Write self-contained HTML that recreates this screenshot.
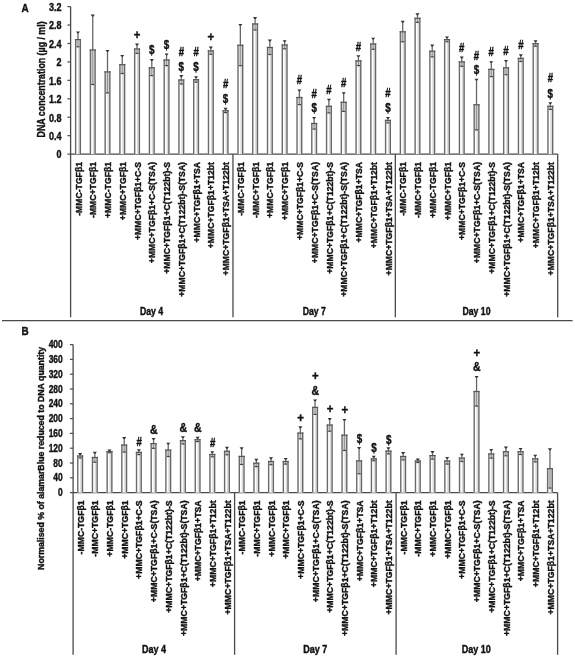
<!DOCTYPE html>
<html><head><meta charset="utf-8"><style>
html,body{margin:0;padding:0;background:#fff;}
svg{display:block;font-family:"Liberation Sans",sans-serif;filter:grayscale(100%);}
text{fill:#111;stroke:#111;stroke-width:0.4px;}
</style></head><body>
<svg width="575" height="658" viewBox="0 0 575 658">
<rect width="575" height="658" fill="#fff"/>
<text x="21.6" y="11.6" font-size="11.8" font-weight="bold" textLength="7.2" lengthAdjust="spacingAndGlyphs">A</text>
<line x1="70.6" y1="6.6" x2="70.6" y2="317.2" stroke="#4a4a4a" stroke-width="1.3"/>
<line x1="70.6" y1="154.1" x2="557.7" y2="154.1" stroke="#4a4a4a" stroke-width="1.3"/>
<line x1="232.97" y1="154.1" x2="232.97" y2="317.2" stroke="#4a4a4a" stroke-width="1.3"/>
<line x1="395.33" y1="154.1" x2="395.33" y2="317.2" stroke="#4a4a4a" stroke-width="1.3"/>
<line x1="557.70" y1="154.1" x2="557.70" y2="317.2" stroke="#4a4a4a" stroke-width="1.3"/>
<line x1="67.40" y1="6.60" x2="70.6" y2="6.60" stroke="#4a4a4a" stroke-width="1.2"/>
<text x="61.60" y="10.90" font-size="10.0" font-weight="bold" text-anchor="end" textLength="12.51" lengthAdjust="spacingAndGlyphs" >3.2</text>
<line x1="67.40" y1="25.04" x2="70.6" y2="25.04" stroke="#4a4a4a" stroke-width="1.2"/>
<text x="61.60" y="29.34" font-size="10.0" font-weight="bold" text-anchor="end" textLength="12.51" lengthAdjust="spacingAndGlyphs" >2.8</text>
<line x1="67.40" y1="43.48" x2="70.6" y2="43.48" stroke="#4a4a4a" stroke-width="1.2"/>
<text x="61.60" y="47.77" font-size="10.0" font-weight="bold" text-anchor="end" textLength="12.51" lengthAdjust="spacingAndGlyphs" >2.4</text>
<line x1="67.40" y1="61.91" x2="70.6" y2="61.91" stroke="#4a4a4a" stroke-width="1.2"/>
<text x="61.60" y="66.21" font-size="10.0" font-weight="bold" text-anchor="end" textLength="5.00" lengthAdjust="spacingAndGlyphs" >2</text>
<line x1="67.40" y1="80.35" x2="70.6" y2="80.35" stroke="#4a4a4a" stroke-width="1.2"/>
<text x="61.60" y="84.65" font-size="10.0" font-weight="bold" text-anchor="end" textLength="12.51" lengthAdjust="spacingAndGlyphs" >1.6</text>
<line x1="67.40" y1="98.79" x2="70.6" y2="98.79" stroke="#4a4a4a" stroke-width="1.2"/>
<text x="61.60" y="103.09" font-size="10.0" font-weight="bold" text-anchor="end" textLength="12.51" lengthAdjust="spacingAndGlyphs" >1.2</text>
<line x1="67.40" y1="117.22" x2="70.6" y2="117.22" stroke="#4a4a4a" stroke-width="1.2"/>
<text x="61.60" y="121.52" font-size="10.0" font-weight="bold" text-anchor="end" textLength="12.51" lengthAdjust="spacingAndGlyphs" >0.8</text>
<line x1="67.40" y1="135.66" x2="70.6" y2="135.66" stroke="#4a4a4a" stroke-width="1.2"/>
<text x="61.60" y="139.96" font-size="10.0" font-weight="bold" text-anchor="end" textLength="12.51" lengthAdjust="spacingAndGlyphs" >0.4</text>
<line x1="67.40" y1="154.10" x2="70.6" y2="154.10" stroke="#4a4a4a" stroke-width="1.2"/>
<text x="61.60" y="158.40" font-size="10.0" font-weight="bold" text-anchor="end" textLength="5.00" lengthAdjust="spacingAndGlyphs" >0</text>
<text transform="translate(44.80,79.40) rotate(-90)" font-size="11" font-weight="bold" text-anchor="middle" textLength="116.00" lengthAdjust="spacingAndGlyphs">DNA concentration (µg / ml)</text>
<line x1="77.98" y1="32.40" x2="77.98" y2="39.60" stroke="#666" stroke-width="1.3"/>
<path d="M75.98 31.40H79.98L78.68 33.30H77.28Z" fill="#333"/>
<rect x="74.93" y="39.60" width="6.10" height="114.50" fill="#fff"/>
<rect x="78.03" y="39.60" width="1.5" height="114.50" fill="#dadada"/>
<rect x="76.23" y="39.60" width="3.50" height="7.20" fill="#d4d4d4"/>
<line x1="77.98" y1="39.60" x2="77.98" y2="46.80" stroke="#8a8a8a" stroke-width="0.9"/>
<line x1="76.38" y1="46.80" x2="79.58" y2="46.80" stroke="#444" stroke-width="1.2"/>
<rect x="74.93" y="39.00" width="1.4" height="115.10" fill="#6a6a6a"/>
<rect x="79.63" y="39.00" width="1.4" height="115.10" fill="#666"/>
<rect x="74.93" y="39.00" width="6.10" height="1.2" fill="#555"/>
<text transform="translate(81.58,162.00) rotate(-90)" font-size="9.9" font-weight="bold" text-anchor="end" textLength="53.80" lengthAdjust="spacingAndGlyphs">-MMC-TGFβ1</text>
<line x1="92.74" y1="15.50" x2="92.74" y2="50.00" stroke="#666" stroke-width="1.3"/>
<path d="M90.74 14.50H94.74L93.44 16.40H92.04Z" fill="#333"/>
<rect x="89.69" y="50.00" width="6.10" height="104.10" fill="#fff"/>
<rect x="92.79" y="50.00" width="1.5" height="104.10" fill="#dadada"/>
<rect x="90.99" y="50.00" width="3.50" height="34.50" fill="#d4d4d4"/>
<line x1="92.74" y1="50.00" x2="92.74" y2="84.50" stroke="#8a8a8a" stroke-width="0.9"/>
<line x1="91.14" y1="84.50" x2="94.34" y2="84.50" stroke="#444" stroke-width="1.2"/>
<rect x="89.69" y="49.40" width="1.4" height="104.70" fill="#6a6a6a"/>
<rect x="94.39" y="49.40" width="1.4" height="104.70" fill="#666"/>
<rect x="89.69" y="49.40" width="6.10" height="1.2" fill="#555"/>
<text transform="translate(96.34,162.00) rotate(-90)" font-size="9.9" font-weight="bold" text-anchor="end" textLength="55.97" lengthAdjust="spacingAndGlyphs">-MMC+TGFβ1</text>
<line x1="107.50" y1="50.90" x2="107.50" y2="71.90" stroke="#666" stroke-width="1.3"/>
<path d="M105.50 49.90H109.50L108.20 51.80H106.80Z" fill="#333"/>
<rect x="104.45" y="71.90" width="6.10" height="82.20" fill="#fff"/>
<rect x="107.55" y="71.90" width="1.5" height="82.20" fill="#dadada"/>
<rect x="105.75" y="71.90" width="3.50" height="21.00" fill="#d4d4d4"/>
<line x1="107.50" y1="71.90" x2="107.50" y2="92.90" stroke="#8a8a8a" stroke-width="0.9"/>
<line x1="105.90" y1="92.90" x2="109.10" y2="92.90" stroke="#444" stroke-width="1.2"/>
<rect x="104.45" y="71.30" width="1.4" height="82.80" fill="#6a6a6a"/>
<rect x="109.15" y="71.30" width="1.4" height="82.80" fill="#666"/>
<rect x="104.45" y="71.30" width="6.10" height="1.2" fill="#555"/>
<text transform="translate(111.10,162.00) rotate(-90)" font-size="9.9" font-weight="bold" text-anchor="end" textLength="55.97" lengthAdjust="spacingAndGlyphs">+MMC-TGFβ1</text>
<line x1="122.26" y1="55.90" x2="122.26" y2="64.70" stroke="#666" stroke-width="1.3"/>
<path d="M120.26 54.90H124.26L122.96 56.80H121.56Z" fill="#333"/>
<rect x="119.21" y="64.70" width="6.10" height="89.40" fill="#fff"/>
<rect x="122.31" y="64.70" width="1.5" height="89.40" fill="#dadada"/>
<rect x="120.51" y="64.70" width="3.50" height="8.80" fill="#d4d4d4"/>
<line x1="122.26" y1="64.70" x2="122.26" y2="73.50" stroke="#8a8a8a" stroke-width="0.9"/>
<line x1="120.66" y1="73.50" x2="123.86" y2="73.50" stroke="#444" stroke-width="1.2"/>
<rect x="119.21" y="64.10" width="1.4" height="90.00" fill="#6a6a6a"/>
<rect x="123.91" y="64.10" width="1.4" height="90.00" fill="#666"/>
<rect x="119.21" y="64.10" width="6.10" height="1.2" fill="#555"/>
<text transform="translate(125.86,162.00) rotate(-90)" font-size="9.9" font-weight="bold" text-anchor="end" textLength="58.15" lengthAdjust="spacingAndGlyphs">+MMC+TGFβ1</text>
<line x1="137.02" y1="44.60" x2="137.02" y2="49.00" stroke="#666" stroke-width="1.3"/>
<path d="M135.02 43.60H139.02L137.72 45.50H136.32Z" fill="#333"/>
<rect x="133.97" y="49.00" width="6.10" height="105.10" fill="#fff"/>
<rect x="137.07" y="49.00" width="1.5" height="105.10" fill="#dadada"/>
<rect x="135.27" y="49.00" width="3.50" height="4.40" fill="#d4d4d4"/>
<line x1="137.02" y1="49.00" x2="137.02" y2="53.40" stroke="#8a8a8a" stroke-width="0.9"/>
<line x1="135.42" y1="53.40" x2="138.62" y2="53.40" stroke="#444" stroke-width="1.2"/>
<rect x="133.97" y="48.40" width="1.4" height="105.70" fill="#6a6a6a"/>
<rect x="138.67" y="48.40" width="1.4" height="105.70" fill="#666"/>
<rect x="133.97" y="48.40" width="6.10" height="1.2" fill="#555"/>
<text transform="translate(140.62,162.00) rotate(-90)" font-size="9.9" font-weight="bold" text-anchor="end" textLength="78.09" lengthAdjust="spacingAndGlyphs">+MMC+TGFβ1+C-S</text>
<line x1="151.78" y1="60.00" x2="151.78" y2="67.80" stroke="#666" stroke-width="1.3"/>
<path d="M149.78 59.00H153.78L152.48 60.90H151.08Z" fill="#333"/>
<rect x="148.73" y="67.80" width="6.10" height="86.30" fill="#fff"/>
<rect x="151.83" y="67.80" width="1.5" height="86.30" fill="#dadada"/>
<rect x="150.03" y="67.80" width="3.50" height="7.80" fill="#d4d4d4"/>
<line x1="151.78" y1="67.80" x2="151.78" y2="75.60" stroke="#8a8a8a" stroke-width="0.9"/>
<line x1="150.18" y1="75.60" x2="153.38" y2="75.60" stroke="#444" stroke-width="1.2"/>
<rect x="148.73" y="67.20" width="1.4" height="86.90" fill="#6a6a6a"/>
<rect x="153.43" y="67.20" width="1.4" height="86.90" fill="#666"/>
<rect x="148.73" y="67.20" width="6.10" height="1.2" fill="#555"/>
<text transform="translate(155.38,162.00) rotate(-90)" font-size="9.9" font-weight="bold" text-anchor="end" textLength="101.15" lengthAdjust="spacingAndGlyphs">+MMC+TGFβ1+C-S(TSA)</text>
<line x1="166.54" y1="54.40" x2="166.54" y2="60.00" stroke="#666" stroke-width="1.3"/>
<path d="M164.54 53.40H168.54L167.24 55.30H165.84Z" fill="#333"/>
<rect x="163.49" y="60.00" width="6.10" height="94.10" fill="#fff"/>
<rect x="166.59" y="60.00" width="1.5" height="94.10" fill="#dadada"/>
<rect x="164.79" y="60.00" width="3.50" height="5.60" fill="#d4d4d4"/>
<line x1="166.54" y1="60.00" x2="166.54" y2="65.60" stroke="#8a8a8a" stroke-width="0.9"/>
<line x1="164.94" y1="65.60" x2="168.14" y2="65.60" stroke="#444" stroke-width="1.2"/>
<rect x="163.49" y="59.40" width="1.4" height="94.70" fill="#6a6a6a"/>
<rect x="168.19" y="59.40" width="1.4" height="94.70" fill="#666"/>
<rect x="163.49" y="59.40" width="6.10" height="1.2" fill="#555"/>
<text transform="translate(170.14,162.00) rotate(-90)" font-size="9.9" font-weight="bold" text-anchor="end" textLength="111.73" lengthAdjust="spacingAndGlyphs">+MMC+TGFβ1+C(T122bt)-S</text>
<line x1="181.30" y1="76.00" x2="181.30" y2="80.00" stroke="#666" stroke-width="1.3"/>
<path d="M179.30 75.00H183.30L182.00 76.90H180.60Z" fill="#333"/>
<rect x="178.25" y="80.00" width="6.10" height="74.10" fill="#fff"/>
<rect x="181.35" y="80.00" width="1.5" height="74.10" fill="#dadada"/>
<rect x="179.55" y="80.00" width="3.50" height="4.00" fill="#d4d4d4"/>
<line x1="181.30" y1="80.00" x2="181.30" y2="84.00" stroke="#8a8a8a" stroke-width="0.9"/>
<line x1="179.70" y1="84.00" x2="182.90" y2="84.00" stroke="#444" stroke-width="1.2"/>
<rect x="178.25" y="79.40" width="1.4" height="74.70" fill="#6a6a6a"/>
<rect x="182.95" y="79.40" width="1.4" height="74.70" fill="#666"/>
<rect x="178.25" y="79.40" width="6.10" height="1.2" fill="#555"/>
<text transform="translate(184.90,162.00) rotate(-90)" font-size="9.9" font-weight="bold" text-anchor="end" textLength="134.79" lengthAdjust="spacingAndGlyphs">+MMC+TGFβ1+C(T122bt)-S(TSA)</text>
<line x1="196.07" y1="77.20" x2="196.07" y2="79.70" stroke="#666" stroke-width="1.3"/>
<path d="M194.07 76.20H198.07L196.77 78.10H195.37Z" fill="#333"/>
<rect x="193.02" y="79.70" width="6.10" height="74.40" fill="#fff"/>
<rect x="196.12" y="79.70" width="1.5" height="74.40" fill="#dadada"/>
<rect x="194.32" y="79.70" width="3.50" height="2.50" fill="#d4d4d4"/>
<line x1="196.07" y1="79.70" x2="196.07" y2="82.20" stroke="#8a8a8a" stroke-width="0.9"/>
<line x1="194.47" y1="82.20" x2="197.67" y2="82.20" stroke="#444" stroke-width="1.2"/>
<rect x="193.02" y="79.10" width="1.4" height="75.00" fill="#6a6a6a"/>
<rect x="197.72" y="79.10" width="1.4" height="75.00" fill="#666"/>
<rect x="193.02" y="79.10" width="6.10" height="1.2" fill="#555"/>
<text transform="translate(199.67,162.00) rotate(-90)" font-size="9.9" font-weight="bold" text-anchor="end" textLength="80.50" lengthAdjust="spacingAndGlyphs">+MMC+TGFβ1+TSA</text>
<line x1="210.83" y1="47.50" x2="210.83" y2="50.90" stroke="#666" stroke-width="1.3"/>
<path d="M208.83 46.50H212.83L211.53 48.40H210.13Z" fill="#333"/>
<rect x="207.78" y="50.90" width="6.10" height="103.20" fill="#fff"/>
<rect x="210.88" y="50.90" width="1.5" height="103.20" fill="#dadada"/>
<rect x="209.08" y="50.90" width="3.50" height="3.40" fill="#d4d4d4"/>
<line x1="210.83" y1="50.90" x2="210.83" y2="54.30" stroke="#8a8a8a" stroke-width="0.9"/>
<line x1="209.23" y1="54.30" x2="212.43" y2="54.30" stroke="#444" stroke-width="1.2"/>
<rect x="207.78" y="50.30" width="1.4" height="103.80" fill="#6a6a6a"/>
<rect x="212.48" y="50.30" width="1.4" height="103.80" fill="#666"/>
<rect x="207.78" y="50.30" width="6.10" height="1.2" fill="#555"/>
<text transform="translate(214.43,162.00) rotate(-90)" font-size="9.9" font-weight="bold" text-anchor="end" textLength="86.26" lengthAdjust="spacingAndGlyphs">+MMC+TGFβ1+T12bt</text>
<line x1="225.59" y1="108.80" x2="225.59" y2="110.70" stroke="#666" stroke-width="1.3"/>
<path d="M223.59 107.80H227.59L226.29 109.70H224.89Z" fill="#333"/>
<rect x="222.54" y="110.70" width="6.10" height="43.40" fill="#fff"/>
<rect x="225.64" y="110.70" width="1.5" height="43.40" fill="#dadada"/>
<rect x="223.84" y="110.70" width="3.50" height="1.90" fill="#d4d4d4"/>
<line x1="225.59" y1="110.70" x2="225.59" y2="112.60" stroke="#8a8a8a" stroke-width="0.9"/>
<line x1="223.99" y1="112.60" x2="227.19" y2="112.60" stroke="#444" stroke-width="1.2"/>
<rect x="222.54" y="110.10" width="1.4" height="44.00" fill="#6a6a6a"/>
<rect x="227.24" y="110.10" width="1.4" height="44.00" fill="#666"/>
<rect x="222.54" y="110.10" width="6.10" height="1.2" fill="#555"/>
<text transform="translate(229.19,162.00) rotate(-90)" font-size="9.9" font-weight="bold" text-anchor="end" textLength="113.43" lengthAdjust="spacingAndGlyphs">+MMC+TGFβ1+TSA+T122bt</text>
<line x1="240.35" y1="24.90" x2="240.35" y2="45.30" stroke="#666" stroke-width="1.3"/>
<path d="M238.35 23.90H242.35L241.05 25.80H239.65Z" fill="#333"/>
<rect x="237.30" y="45.30" width="6.10" height="108.80" fill="#fff"/>
<rect x="240.40" y="45.30" width="1.5" height="108.80" fill="#dadada"/>
<rect x="238.60" y="45.30" width="3.50" height="20.40" fill="#d4d4d4"/>
<line x1="240.35" y1="45.30" x2="240.35" y2="65.70" stroke="#8a8a8a" stroke-width="0.9"/>
<line x1="238.75" y1="65.70" x2="241.95" y2="65.70" stroke="#444" stroke-width="1.2"/>
<rect x="237.30" y="44.70" width="1.4" height="109.40" fill="#6a6a6a"/>
<rect x="242.00" y="44.70" width="1.4" height="109.40" fill="#666"/>
<rect x="237.30" y="44.70" width="6.10" height="1.2" fill="#555"/>
<text transform="translate(243.95,162.00) rotate(-90)" font-size="9.9" font-weight="bold" text-anchor="end" textLength="53.80" lengthAdjust="spacingAndGlyphs">-MMC-TGFβ1</text>
<line x1="255.11" y1="18.00" x2="255.11" y2="24.00" stroke="#666" stroke-width="1.3"/>
<path d="M253.11 17.00H257.11L255.81 18.90H254.41Z" fill="#333"/>
<rect x="252.06" y="24.00" width="6.10" height="130.10" fill="#fff"/>
<rect x="255.16" y="24.00" width="1.5" height="130.10" fill="#dadada"/>
<rect x="253.36" y="24.00" width="3.50" height="6.00" fill="#d4d4d4"/>
<line x1="255.11" y1="24.00" x2="255.11" y2="30.00" stroke="#8a8a8a" stroke-width="0.9"/>
<line x1="253.51" y1="30.00" x2="256.71" y2="30.00" stroke="#444" stroke-width="1.2"/>
<rect x="252.06" y="23.40" width="1.4" height="130.70" fill="#6a6a6a"/>
<rect x="256.76" y="23.40" width="1.4" height="130.70" fill="#666"/>
<rect x="252.06" y="23.40" width="6.10" height="1.2" fill="#555"/>
<text transform="translate(258.71,162.00) rotate(-90)" font-size="9.9" font-weight="bold" text-anchor="end" textLength="55.97" lengthAdjust="spacingAndGlyphs">-MMC+TGFβ1</text>
<line x1="269.87" y1="40.50" x2="269.87" y2="47.50" stroke="#666" stroke-width="1.3"/>
<path d="M267.87 39.50H271.87L270.57 41.40H269.17Z" fill="#333"/>
<rect x="266.82" y="47.50" width="6.10" height="106.60" fill="#fff"/>
<rect x="269.92" y="47.50" width="1.5" height="106.60" fill="#dadada"/>
<rect x="268.12" y="47.50" width="3.50" height="7.00" fill="#d4d4d4"/>
<line x1="269.87" y1="47.50" x2="269.87" y2="54.50" stroke="#8a8a8a" stroke-width="0.9"/>
<line x1="268.27" y1="54.50" x2="271.47" y2="54.50" stroke="#444" stroke-width="1.2"/>
<rect x="266.82" y="46.90" width="1.4" height="107.20" fill="#6a6a6a"/>
<rect x="271.52" y="46.90" width="1.4" height="107.20" fill="#666"/>
<rect x="266.82" y="46.90" width="6.10" height="1.2" fill="#555"/>
<text transform="translate(273.47,162.00) rotate(-90)" font-size="9.9" font-weight="bold" text-anchor="end" textLength="55.97" lengthAdjust="spacingAndGlyphs">+MMC-TGFβ1</text>
<line x1="284.63" y1="41.20" x2="284.63" y2="45.00" stroke="#666" stroke-width="1.3"/>
<path d="M282.63 40.20H286.63L285.33 42.10H283.93Z" fill="#333"/>
<rect x="281.58" y="45.00" width="6.10" height="109.10" fill="#fff"/>
<rect x="284.68" y="45.00" width="1.5" height="109.10" fill="#dadada"/>
<rect x="282.88" y="45.00" width="3.50" height="3.80" fill="#d4d4d4"/>
<line x1="284.63" y1="45.00" x2="284.63" y2="48.80" stroke="#8a8a8a" stroke-width="0.9"/>
<line x1="283.03" y1="48.80" x2="286.23" y2="48.80" stroke="#444" stroke-width="1.2"/>
<rect x="281.58" y="44.40" width="1.4" height="109.70" fill="#6a6a6a"/>
<rect x="286.28" y="44.40" width="1.4" height="109.70" fill="#666"/>
<rect x="281.58" y="44.40" width="6.10" height="1.2" fill="#555"/>
<text transform="translate(288.23,162.00) rotate(-90)" font-size="9.9" font-weight="bold" text-anchor="end" textLength="58.15" lengthAdjust="spacingAndGlyphs">+MMC+TGFβ1</text>
<line x1="299.39" y1="90.40" x2="299.39" y2="97.50" stroke="#666" stroke-width="1.3"/>
<path d="M297.39 89.40H301.39L300.09 91.30H298.69Z" fill="#333"/>
<rect x="296.34" y="97.50" width="6.10" height="56.60" fill="#fff"/>
<rect x="299.44" y="97.50" width="1.5" height="56.60" fill="#dadada"/>
<rect x="297.64" y="97.50" width="3.50" height="7.10" fill="#d4d4d4"/>
<line x1="299.39" y1="97.50" x2="299.39" y2="104.60" stroke="#8a8a8a" stroke-width="0.9"/>
<line x1="297.79" y1="104.60" x2="300.99" y2="104.60" stroke="#444" stroke-width="1.2"/>
<rect x="296.34" y="96.90" width="1.4" height="57.20" fill="#6a6a6a"/>
<rect x="301.04" y="96.90" width="1.4" height="57.20" fill="#666"/>
<rect x="296.34" y="96.90" width="6.10" height="1.2" fill="#555"/>
<text transform="translate(302.99,162.00) rotate(-90)" font-size="9.9" font-weight="bold" text-anchor="end" textLength="78.09" lengthAdjust="spacingAndGlyphs">+MMC+TGFβ1+C-S</text>
<line x1="314.15" y1="117.90" x2="314.15" y2="123.50" stroke="#666" stroke-width="1.3"/>
<path d="M312.15 116.90H316.15L314.85 118.80H313.45Z" fill="#333"/>
<rect x="311.10" y="123.50" width="6.10" height="30.60" fill="#fff"/>
<rect x="314.20" y="123.50" width="1.5" height="30.60" fill="#dadada"/>
<rect x="312.40" y="123.50" width="3.50" height="5.60" fill="#d4d4d4"/>
<line x1="314.15" y1="123.50" x2="314.15" y2="129.10" stroke="#8a8a8a" stroke-width="0.9"/>
<line x1="312.55" y1="129.10" x2="315.75" y2="129.10" stroke="#444" stroke-width="1.2"/>
<rect x="311.10" y="122.90" width="1.4" height="31.20" fill="#6a6a6a"/>
<rect x="315.80" y="122.90" width="1.4" height="31.20" fill="#666"/>
<rect x="311.10" y="122.90" width="6.10" height="1.2" fill="#555"/>
<text transform="translate(317.75,162.00) rotate(-90)" font-size="9.9" font-weight="bold" text-anchor="end" textLength="101.15" lengthAdjust="spacingAndGlyphs">+MMC+TGFβ1+C-S(TSA)</text>
<line x1="328.91" y1="99.70" x2="328.91" y2="106.30" stroke="#666" stroke-width="1.3"/>
<path d="M326.91 98.70H330.91L329.61 100.60H328.21Z" fill="#333"/>
<rect x="325.86" y="106.30" width="6.10" height="47.80" fill="#fff"/>
<rect x="328.96" y="106.30" width="1.5" height="47.80" fill="#dadada"/>
<rect x="327.16" y="106.30" width="3.50" height="6.60" fill="#d4d4d4"/>
<line x1="328.91" y1="106.30" x2="328.91" y2="112.90" stroke="#8a8a8a" stroke-width="0.9"/>
<line x1="327.31" y1="112.90" x2="330.51" y2="112.90" stroke="#444" stroke-width="1.2"/>
<rect x="325.86" y="105.70" width="1.4" height="48.40" fill="#6a6a6a"/>
<rect x="330.56" y="105.70" width="1.4" height="48.40" fill="#666"/>
<rect x="325.86" y="105.70" width="6.10" height="1.2" fill="#555"/>
<text transform="translate(332.51,162.00) rotate(-90)" font-size="9.9" font-weight="bold" text-anchor="end" textLength="111.73" lengthAdjust="spacingAndGlyphs">+MMC+TGFβ1+C(T122bt)-S</text>
<line x1="343.67" y1="93.20" x2="343.67" y2="102.30" stroke="#666" stroke-width="1.3"/>
<path d="M341.67 92.20H345.67L344.37 94.10H342.97Z" fill="#333"/>
<rect x="340.62" y="102.30" width="6.10" height="51.80" fill="#fff"/>
<rect x="343.72" y="102.30" width="1.5" height="51.80" fill="#dadada"/>
<rect x="341.92" y="102.30" width="3.50" height="9.10" fill="#d4d4d4"/>
<line x1="343.67" y1="102.30" x2="343.67" y2="111.40" stroke="#8a8a8a" stroke-width="0.9"/>
<line x1="342.07" y1="111.40" x2="345.27" y2="111.40" stroke="#444" stroke-width="1.2"/>
<rect x="340.62" y="101.70" width="1.4" height="52.40" fill="#6a6a6a"/>
<rect x="345.32" y="101.70" width="1.4" height="52.40" fill="#666"/>
<rect x="340.62" y="101.70" width="6.10" height="1.2" fill="#555"/>
<text transform="translate(347.27,162.00) rotate(-90)" font-size="9.9" font-weight="bold" text-anchor="end" textLength="134.79" lengthAdjust="spacingAndGlyphs">+MMC+TGFβ1+C(T122bt)-S(TSA)</text>
<line x1="358.43" y1="56.20" x2="358.43" y2="60.90" stroke="#666" stroke-width="1.3"/>
<path d="M356.43 55.20H360.43L359.13 57.10H357.73Z" fill="#333"/>
<rect x="355.38" y="60.90" width="6.10" height="93.20" fill="#fff"/>
<rect x="358.48" y="60.90" width="1.5" height="93.20" fill="#dadada"/>
<rect x="356.68" y="60.90" width="3.50" height="4.70" fill="#d4d4d4"/>
<line x1="358.43" y1="60.90" x2="358.43" y2="65.60" stroke="#8a8a8a" stroke-width="0.9"/>
<line x1="356.83" y1="65.60" x2="360.03" y2="65.60" stroke="#444" stroke-width="1.2"/>
<rect x="355.38" y="60.30" width="1.4" height="93.80" fill="#6a6a6a"/>
<rect x="360.08" y="60.30" width="1.4" height="93.80" fill="#666"/>
<rect x="355.38" y="60.30" width="6.10" height="1.2" fill="#555"/>
<text transform="translate(362.03,162.00) rotate(-90)" font-size="9.9" font-weight="bold" text-anchor="end" textLength="80.50" lengthAdjust="spacingAndGlyphs">+MMC+TGFβ1+TSA</text>
<line x1="373.19" y1="38.70" x2="373.19" y2="44.00" stroke="#666" stroke-width="1.3"/>
<path d="M371.19 37.70H375.19L373.89 39.60H372.49Z" fill="#333"/>
<rect x="370.14" y="44.00" width="6.10" height="110.10" fill="#fff"/>
<rect x="373.24" y="44.00" width="1.5" height="110.10" fill="#dadada"/>
<rect x="371.44" y="44.00" width="3.50" height="5.30" fill="#d4d4d4"/>
<line x1="373.19" y1="44.00" x2="373.19" y2="49.30" stroke="#8a8a8a" stroke-width="0.9"/>
<line x1="371.59" y1="49.30" x2="374.79" y2="49.30" stroke="#444" stroke-width="1.2"/>
<rect x="370.14" y="43.40" width="1.4" height="110.70" fill="#6a6a6a"/>
<rect x="374.84" y="43.40" width="1.4" height="110.70" fill="#666"/>
<rect x="370.14" y="43.40" width="6.10" height="1.2" fill="#555"/>
<text transform="translate(376.79,162.00) rotate(-90)" font-size="9.9" font-weight="bold" text-anchor="end" textLength="86.26" lengthAdjust="spacingAndGlyphs">+MMC+TGFβ1+T12bt</text>
<line x1="387.95" y1="117.90" x2="387.95" y2="120.40" stroke="#666" stroke-width="1.3"/>
<path d="M385.95 116.90H389.95L388.65 118.80H387.25Z" fill="#333"/>
<rect x="384.90" y="120.40" width="6.10" height="33.70" fill="#fff"/>
<rect x="388.00" y="120.40" width="1.5" height="33.70" fill="#dadada"/>
<rect x="386.20" y="120.40" width="3.50" height="2.50" fill="#d4d4d4"/>
<line x1="387.95" y1="120.40" x2="387.95" y2="122.90" stroke="#8a8a8a" stroke-width="0.9"/>
<line x1="386.35" y1="122.90" x2="389.55" y2="122.90" stroke="#444" stroke-width="1.2"/>
<rect x="384.90" y="119.80" width="1.4" height="34.30" fill="#6a6a6a"/>
<rect x="389.60" y="119.80" width="1.4" height="34.30" fill="#666"/>
<rect x="384.90" y="119.80" width="6.10" height="1.2" fill="#555"/>
<text transform="translate(391.55,162.00) rotate(-90)" font-size="9.9" font-weight="bold" text-anchor="end" textLength="113.43" lengthAdjust="spacingAndGlyphs">+MMC+TGFβ1+TSA+T122bt</text>
<line x1="402.71" y1="21.80" x2="402.71" y2="31.80" stroke="#666" stroke-width="1.3"/>
<path d="M400.71 20.80H404.71L403.41 22.70H402.01Z" fill="#333"/>
<rect x="399.66" y="31.80" width="6.10" height="122.30" fill="#fff"/>
<rect x="402.76" y="31.80" width="1.5" height="122.30" fill="#dadada"/>
<rect x="400.96" y="31.80" width="3.50" height="10.00" fill="#d4d4d4"/>
<line x1="402.71" y1="31.80" x2="402.71" y2="41.80" stroke="#8a8a8a" stroke-width="0.9"/>
<line x1="401.11" y1="41.80" x2="404.31" y2="41.80" stroke="#444" stroke-width="1.2"/>
<rect x="399.66" y="31.20" width="1.4" height="122.90" fill="#6a6a6a"/>
<rect x="404.36" y="31.20" width="1.4" height="122.90" fill="#666"/>
<rect x="399.66" y="31.20" width="6.10" height="1.2" fill="#555"/>
<text transform="translate(406.31,162.00) rotate(-90)" font-size="9.9" font-weight="bold" text-anchor="end" textLength="53.80" lengthAdjust="spacingAndGlyphs">-MMC-TGFβ1</text>
<line x1="417.47" y1="14.30" x2="417.47" y2="18.30" stroke="#666" stroke-width="1.3"/>
<path d="M415.47 13.30H419.47L418.17 15.20H416.77Z" fill="#333"/>
<rect x="414.42" y="18.30" width="6.10" height="135.80" fill="#fff"/>
<rect x="417.52" y="18.30" width="1.5" height="135.80" fill="#dadada"/>
<rect x="415.72" y="18.30" width="3.50" height="4.00" fill="#d4d4d4"/>
<line x1="417.47" y1="18.30" x2="417.47" y2="22.30" stroke="#8a8a8a" stroke-width="0.9"/>
<line x1="415.87" y1="22.30" x2="419.07" y2="22.30" stroke="#444" stroke-width="1.2"/>
<rect x="414.42" y="17.70" width="1.4" height="136.40" fill="#6a6a6a"/>
<rect x="419.12" y="17.70" width="1.4" height="136.40" fill="#666"/>
<rect x="414.42" y="17.70" width="6.10" height="1.2" fill="#555"/>
<text transform="translate(421.07,162.00) rotate(-90)" font-size="9.9" font-weight="bold" text-anchor="end" textLength="55.97" lengthAdjust="spacingAndGlyphs">-MMC+TGFβ1</text>
<line x1="432.23" y1="45.50" x2="432.23" y2="51.20" stroke="#666" stroke-width="1.3"/>
<path d="M430.23 44.50H434.23L432.93 46.40H431.53Z" fill="#333"/>
<rect x="429.18" y="51.20" width="6.10" height="102.90" fill="#fff"/>
<rect x="432.28" y="51.20" width="1.5" height="102.90" fill="#dadada"/>
<rect x="430.48" y="51.20" width="3.50" height="5.70" fill="#d4d4d4"/>
<line x1="432.23" y1="51.20" x2="432.23" y2="56.90" stroke="#8a8a8a" stroke-width="0.9"/>
<line x1="430.63" y1="56.90" x2="433.83" y2="56.90" stroke="#444" stroke-width="1.2"/>
<rect x="429.18" y="50.60" width="1.4" height="103.50" fill="#6a6a6a"/>
<rect x="433.88" y="50.60" width="1.4" height="103.50" fill="#666"/>
<rect x="429.18" y="50.60" width="6.10" height="1.2" fill="#555"/>
<text transform="translate(435.83,162.00) rotate(-90)" font-size="9.9" font-weight="bold" text-anchor="end" textLength="55.97" lengthAdjust="spacingAndGlyphs">+MMC-TGFβ1</text>
<line x1="447.00" y1="37.40" x2="447.00" y2="39.60" stroke="#666" stroke-width="1.3"/>
<path d="M445.00 36.40H449.00L447.70 38.30H446.30Z" fill="#333"/>
<rect x="443.95" y="39.60" width="6.10" height="114.50" fill="#fff"/>
<rect x="447.05" y="39.60" width="1.5" height="114.50" fill="#dadada"/>
<rect x="445.25" y="39.60" width="3.50" height="2.20" fill="#d4d4d4"/>
<line x1="447.00" y1="39.60" x2="447.00" y2="41.80" stroke="#8a8a8a" stroke-width="0.9"/>
<line x1="445.40" y1="41.80" x2="448.60" y2="41.80" stroke="#444" stroke-width="1.2"/>
<rect x="443.95" y="39.00" width="1.4" height="115.10" fill="#6a6a6a"/>
<rect x="448.65" y="39.00" width="1.4" height="115.10" fill="#666"/>
<rect x="443.95" y="39.00" width="6.10" height="1.2" fill="#555"/>
<text transform="translate(450.60,162.00) rotate(-90)" font-size="9.9" font-weight="bold" text-anchor="end" textLength="58.15" lengthAdjust="spacingAndGlyphs">+MMC+TGFβ1</text>
<line x1="461.76" y1="57.50" x2="461.76" y2="61.90" stroke="#666" stroke-width="1.3"/>
<path d="M459.76 56.50H463.76L462.46 58.40H461.06Z" fill="#333"/>
<rect x="458.71" y="61.90" width="6.10" height="92.20" fill="#fff"/>
<rect x="461.81" y="61.90" width="1.5" height="92.20" fill="#dadada"/>
<rect x="460.01" y="61.90" width="3.50" height="4.40" fill="#d4d4d4"/>
<line x1="461.76" y1="61.90" x2="461.76" y2="66.30" stroke="#8a8a8a" stroke-width="0.9"/>
<line x1="460.16" y1="66.30" x2="463.36" y2="66.30" stroke="#444" stroke-width="1.2"/>
<rect x="458.71" y="61.30" width="1.4" height="92.80" fill="#6a6a6a"/>
<rect x="463.41" y="61.30" width="1.4" height="92.80" fill="#666"/>
<rect x="458.71" y="61.30" width="6.10" height="1.2" fill="#555"/>
<text transform="translate(465.36,162.00) rotate(-90)" font-size="9.9" font-weight="bold" text-anchor="end" textLength="78.09" lengthAdjust="spacingAndGlyphs">+MMC+TGFβ1+C-S</text>
<line x1="476.52" y1="79.70" x2="476.52" y2="104.80" stroke="#666" stroke-width="1.3"/>
<path d="M474.52 78.70H478.52L477.22 80.60H475.82Z" fill="#333"/>
<rect x="473.47" y="104.80" width="6.10" height="49.30" fill="#fff"/>
<rect x="476.57" y="104.80" width="1.5" height="49.30" fill="#dadada"/>
<rect x="474.77" y="104.80" width="3.50" height="25.10" fill="#d4d4d4"/>
<line x1="476.52" y1="104.80" x2="476.52" y2="129.90" stroke="#8a8a8a" stroke-width="0.9"/>
<line x1="474.92" y1="129.90" x2="478.12" y2="129.90" stroke="#444" stroke-width="1.2"/>
<rect x="473.47" y="104.20" width="1.4" height="49.90" fill="#6a6a6a"/>
<rect x="478.17" y="104.20" width="1.4" height="49.90" fill="#666"/>
<rect x="473.47" y="104.20" width="6.10" height="1.2" fill="#555"/>
<text transform="translate(480.12,162.00) rotate(-90)" font-size="9.9" font-weight="bold" text-anchor="end" textLength="101.15" lengthAdjust="spacingAndGlyphs">+MMC+TGFβ1+C-S(TSA)</text>
<line x1="491.28" y1="62.20" x2="491.28" y2="69.40" stroke="#666" stroke-width="1.3"/>
<path d="M489.28 61.20H493.28L491.98 63.10H490.58Z" fill="#333"/>
<rect x="488.23" y="69.40" width="6.10" height="84.70" fill="#fff"/>
<rect x="491.33" y="69.40" width="1.5" height="84.70" fill="#dadada"/>
<rect x="489.53" y="69.40" width="3.50" height="7.20" fill="#d4d4d4"/>
<line x1="491.28" y1="69.40" x2="491.28" y2="76.60" stroke="#8a8a8a" stroke-width="0.9"/>
<line x1="489.68" y1="76.60" x2="492.88" y2="76.60" stroke="#444" stroke-width="1.2"/>
<rect x="488.23" y="68.80" width="1.4" height="85.30" fill="#6a6a6a"/>
<rect x="492.93" y="68.80" width="1.4" height="85.30" fill="#666"/>
<rect x="488.23" y="68.80" width="6.10" height="1.2" fill="#555"/>
<text transform="translate(494.88,162.00) rotate(-90)" font-size="9.9" font-weight="bold" text-anchor="end" textLength="111.73" lengthAdjust="spacingAndGlyphs">+MMC+TGFβ1+C(T122bt)-S</text>
<line x1="506.04" y1="60.90" x2="506.04" y2="67.80" stroke="#666" stroke-width="1.3"/>
<path d="M504.04 59.90H508.04L506.74 61.80H505.34Z" fill="#333"/>
<rect x="502.99" y="67.80" width="6.10" height="86.30" fill="#fff"/>
<rect x="506.09" y="67.80" width="1.5" height="86.30" fill="#dadada"/>
<rect x="504.29" y="67.80" width="3.50" height="6.90" fill="#d4d4d4"/>
<line x1="506.04" y1="67.80" x2="506.04" y2="74.70" stroke="#8a8a8a" stroke-width="0.9"/>
<line x1="504.44" y1="74.70" x2="507.64" y2="74.70" stroke="#444" stroke-width="1.2"/>
<rect x="502.99" y="67.20" width="1.4" height="86.90" fill="#6a6a6a"/>
<rect x="507.69" y="67.20" width="1.4" height="86.90" fill="#666"/>
<rect x="502.99" y="67.20" width="6.10" height="1.2" fill="#555"/>
<text transform="translate(509.64,162.00) rotate(-90)" font-size="9.9" font-weight="bold" text-anchor="end" textLength="134.79" lengthAdjust="spacingAndGlyphs">+MMC+TGFβ1+C(T122bt)-S(TSA)</text>
<line x1="520.80" y1="55.30" x2="520.80" y2="58.40" stroke="#666" stroke-width="1.3"/>
<path d="M518.80 54.30H522.80L521.50 56.20H520.10Z" fill="#333"/>
<rect x="517.75" y="58.40" width="6.10" height="95.70" fill="#fff"/>
<rect x="520.85" y="58.40" width="1.5" height="95.70" fill="#dadada"/>
<rect x="519.05" y="58.40" width="3.50" height="3.10" fill="#d4d4d4"/>
<line x1="520.80" y1="58.40" x2="520.80" y2="61.50" stroke="#8a8a8a" stroke-width="0.9"/>
<line x1="519.20" y1="61.50" x2="522.40" y2="61.50" stroke="#444" stroke-width="1.2"/>
<rect x="517.75" y="57.80" width="1.4" height="96.30" fill="#6a6a6a"/>
<rect x="522.45" y="57.80" width="1.4" height="96.30" fill="#666"/>
<rect x="517.75" y="57.80" width="6.10" height="1.2" fill="#555"/>
<text transform="translate(524.40,162.00) rotate(-90)" font-size="9.9" font-weight="bold" text-anchor="end" textLength="80.50" lengthAdjust="spacingAndGlyphs">+MMC+TGFβ1+TSA</text>
<line x1="535.56" y1="41.20" x2="535.56" y2="43.70" stroke="#666" stroke-width="1.3"/>
<path d="M533.56 40.20H537.56L536.26 42.10H534.86Z" fill="#333"/>
<rect x="532.51" y="43.70" width="6.10" height="110.40" fill="#fff"/>
<rect x="535.61" y="43.70" width="1.5" height="110.40" fill="#dadada"/>
<rect x="533.81" y="43.70" width="3.50" height="2.50" fill="#d4d4d4"/>
<line x1="535.56" y1="43.70" x2="535.56" y2="46.20" stroke="#8a8a8a" stroke-width="0.9"/>
<line x1="533.96" y1="46.20" x2="537.16" y2="46.20" stroke="#444" stroke-width="1.2"/>
<rect x="532.51" y="43.10" width="1.4" height="111.00" fill="#6a6a6a"/>
<rect x="537.21" y="43.10" width="1.4" height="111.00" fill="#666"/>
<rect x="532.51" y="43.10" width="6.10" height="1.2" fill="#555"/>
<text transform="translate(539.16,162.00) rotate(-90)" font-size="9.9" font-weight="bold" text-anchor="end" textLength="86.26" lengthAdjust="spacingAndGlyphs">+MMC+TGFβ1+T12bt</text>
<line x1="550.32" y1="103.20" x2="550.32" y2="106.30" stroke="#666" stroke-width="1.3"/>
<path d="M548.32 102.20H552.32L551.02 104.10H549.62Z" fill="#333"/>
<rect x="547.27" y="106.30" width="6.10" height="47.80" fill="#fff"/>
<rect x="550.37" y="106.30" width="1.5" height="47.80" fill="#dadada"/>
<rect x="548.57" y="106.30" width="3.50" height="3.10" fill="#d4d4d4"/>
<line x1="550.32" y1="106.30" x2="550.32" y2="109.40" stroke="#8a8a8a" stroke-width="0.9"/>
<line x1="548.72" y1="109.40" x2="551.92" y2="109.40" stroke="#444" stroke-width="1.2"/>
<rect x="547.27" y="105.70" width="1.4" height="48.40" fill="#6a6a6a"/>
<rect x="551.97" y="105.70" width="1.4" height="48.40" fill="#666"/>
<rect x="547.27" y="105.70" width="6.10" height="1.2" fill="#555"/>
<text transform="translate(553.92,162.00) rotate(-90)" font-size="9.9" font-weight="bold" text-anchor="end" textLength="113.43" lengthAdjust="spacingAndGlyphs">+MMC+TGFβ1+TSA+T122bt</text>
<text x="137.02" y="38.90" font-size="12" font-weight="bold" text-anchor="middle" textLength="6.66" lengthAdjust="spacingAndGlyphs">+</text>
<text x="151.78" y="54.30" font-size="12" font-weight="bold" text-anchor="middle" textLength="5.47" lengthAdjust="spacingAndGlyphs">$</text>
<text x="166.54" y="49.30" font-size="12" font-weight="bold" text-anchor="middle" textLength="5.47" lengthAdjust="spacingAndGlyphs">$</text>
<text x="181.30" y="55.70" font-size="12" font-weight="bold" text-anchor="middle" textLength="5.34" lengthAdjust="spacingAndGlyphs">#</text>
<text x="181.30" y="71.20" font-size="12" font-weight="bold" text-anchor="middle" textLength="5.47" lengthAdjust="spacingAndGlyphs">$</text>
<text x="196.07" y="55.70" font-size="12" font-weight="bold" text-anchor="middle" textLength="5.34" lengthAdjust="spacingAndGlyphs">#</text>
<text x="196.07" y="71.20" font-size="12" font-weight="bold" text-anchor="middle" textLength="5.47" lengthAdjust="spacingAndGlyphs">$</text>
<text x="210.83" y="41.40" font-size="12" font-weight="bold" text-anchor="middle" textLength="6.66" lengthAdjust="spacingAndGlyphs">+</text>
<text x="225.59" y="87.90" font-size="12" font-weight="bold" text-anchor="middle" textLength="5.34" lengthAdjust="spacingAndGlyphs">#</text>
<text x="225.59" y="103.40" font-size="12" font-weight="bold" text-anchor="middle" textLength="5.47" lengthAdjust="spacingAndGlyphs">$</text>
<text x="299.39" y="83.80" font-size="12" font-weight="bold" text-anchor="middle" textLength="5.34" lengthAdjust="spacingAndGlyphs">#</text>
<text x="314.15" y="97.60" font-size="12" font-weight="bold" text-anchor="middle" textLength="5.34" lengthAdjust="spacingAndGlyphs">#</text>
<text x="314.15" y="112.20" font-size="12" font-weight="bold" text-anchor="middle" textLength="5.47" lengthAdjust="spacingAndGlyphs">$</text>
<text x="328.91" y="93.90" font-size="12" font-weight="bold" text-anchor="middle" textLength="5.34" lengthAdjust="spacingAndGlyphs">#</text>
<text x="343.67" y="87.00" font-size="12" font-weight="bold" text-anchor="middle" textLength="5.34" lengthAdjust="spacingAndGlyphs">#</text>
<text x="358.43" y="51.00" font-size="12" font-weight="bold" text-anchor="middle" textLength="5.34" lengthAdjust="spacingAndGlyphs">#</text>
<text x="387.95" y="97.00" font-size="12" font-weight="bold" text-anchor="middle" textLength="5.34" lengthAdjust="spacingAndGlyphs">#</text>
<text x="387.95" y="112.20" font-size="12" font-weight="bold" text-anchor="middle" textLength="5.47" lengthAdjust="spacingAndGlyphs">$</text>
<text x="461.76" y="51.90" font-size="12" font-weight="bold" text-anchor="middle" textLength="5.34" lengthAdjust="spacingAndGlyphs">#</text>
<text x="476.52" y="59.50" font-size="12" font-weight="bold" text-anchor="middle" textLength="5.34" lengthAdjust="spacingAndGlyphs">#</text>
<text x="476.52" y="74.30" font-size="12" font-weight="bold" text-anchor="middle" textLength="5.47" lengthAdjust="spacingAndGlyphs">$</text>
<text x="491.28" y="55.90" font-size="12" font-weight="bold" text-anchor="middle" textLength="5.34" lengthAdjust="spacingAndGlyphs">#</text>
<text x="506.04" y="55.00" font-size="12" font-weight="bold" text-anchor="middle" textLength="5.34" lengthAdjust="spacingAndGlyphs">#</text>
<text x="520.80" y="48.80" font-size="12" font-weight="bold" text-anchor="middle" textLength="5.34" lengthAdjust="spacingAndGlyphs">#</text>
<text x="550.32" y="82.30" font-size="12" font-weight="bold" text-anchor="middle" textLength="5.34" lengthAdjust="spacingAndGlyphs">#</text>
<text x="550.32" y="97.80" font-size="12" font-weight="bold" text-anchor="middle" textLength="5.47" lengthAdjust="spacingAndGlyphs">$</text>
<text x="151.60" y="314.50" font-size="10.0" font-weight="bold" text-anchor="middle" textLength="23.21" lengthAdjust="spacingAndGlyphs" >Day 4</text>
<text x="314.30" y="314.50" font-size="10.0" font-weight="bold" text-anchor="middle" textLength="23.21" lengthAdjust="spacingAndGlyphs" >Day 7</text>
<text x="476.50" y="314.50" font-size="10.0" font-weight="bold" text-anchor="middle" textLength="28.05" lengthAdjust="spacingAndGlyphs" >Day 10</text>
<line x1="2" y1="320.6" x2="572.6" y2="320.6" stroke="#4a4a4a" stroke-width="1.3"/>
<text x="21.6" y="335.4" font-size="11.8" font-weight="bold" textLength="7.2" lengthAdjust="spacingAndGlyphs">B</text>
<line x1="73.1" y1="344.6" x2="73.1" y2="654.8" stroke="#4a4a4a" stroke-width="1.3"/>
<line x1="73.1" y1="492.6" x2="557.6" y2="492.6" stroke="#4a4a4a" stroke-width="1.3"/>
<line x1="234.60" y1="492.6" x2="234.60" y2="654.8" stroke="#4a4a4a" stroke-width="1.3"/>
<line x1="396.10" y1="492.6" x2="396.10" y2="654.8" stroke="#4a4a4a" stroke-width="1.3"/>
<line x1="557.60" y1="492.6" x2="557.60" y2="654.8" stroke="#4a4a4a" stroke-width="1.3"/>
<line x1="69.90" y1="344.60" x2="73.1" y2="344.60" stroke="#4a4a4a" stroke-width="1.2"/>
<text x="62.70" y="348.20" font-size="10.0" font-weight="bold" text-anchor="end" textLength="14.01" lengthAdjust="spacingAndGlyphs" >400</text>
<line x1="69.90" y1="359.40" x2="73.1" y2="359.40" stroke="#4a4a4a" stroke-width="1.2"/>
<text x="62.70" y="363.00" font-size="10.0" font-weight="bold" text-anchor="end" textLength="14.01" lengthAdjust="spacingAndGlyphs" >360</text>
<line x1="69.90" y1="374.20" x2="73.1" y2="374.20" stroke="#4a4a4a" stroke-width="1.2"/>
<text x="62.70" y="377.80" font-size="10.0" font-weight="bold" text-anchor="end" textLength="14.01" lengthAdjust="spacingAndGlyphs" >320</text>
<line x1="69.90" y1="389.00" x2="73.1" y2="389.00" stroke="#4a4a4a" stroke-width="1.2"/>
<text x="62.70" y="392.60" font-size="10.0" font-weight="bold" text-anchor="end" textLength="14.01" lengthAdjust="spacingAndGlyphs" >280</text>
<line x1="69.90" y1="403.80" x2="73.1" y2="403.80" stroke="#4a4a4a" stroke-width="1.2"/>
<text x="62.70" y="407.40" font-size="10.0" font-weight="bold" text-anchor="end" textLength="14.01" lengthAdjust="spacingAndGlyphs" >240</text>
<line x1="69.90" y1="418.60" x2="73.1" y2="418.60" stroke="#4a4a4a" stroke-width="1.2"/>
<text x="62.70" y="422.20" font-size="10.0" font-weight="bold" text-anchor="end" textLength="14.01" lengthAdjust="spacingAndGlyphs" >200</text>
<line x1="69.90" y1="433.40" x2="73.1" y2="433.40" stroke="#4a4a4a" stroke-width="1.2"/>
<text x="62.70" y="437.00" font-size="10.0" font-weight="bold" text-anchor="end" textLength="14.01" lengthAdjust="spacingAndGlyphs" >160</text>
<line x1="69.90" y1="448.20" x2="73.1" y2="448.20" stroke="#4a4a4a" stroke-width="1.2"/>
<text x="62.70" y="451.80" font-size="10.0" font-weight="bold" text-anchor="end" textLength="14.01" lengthAdjust="spacingAndGlyphs" >120</text>
<line x1="69.90" y1="463.00" x2="73.1" y2="463.00" stroke="#4a4a4a" stroke-width="1.2"/>
<text x="62.70" y="466.60" font-size="10.0" font-weight="bold" text-anchor="end" textLength="9.34" lengthAdjust="spacingAndGlyphs" >80</text>
<line x1="69.90" y1="477.80" x2="73.1" y2="477.80" stroke="#4a4a4a" stroke-width="1.2"/>
<text x="62.70" y="481.40" font-size="10.0" font-weight="bold" text-anchor="end" textLength="9.34" lengthAdjust="spacingAndGlyphs" >40</text>
<line x1="69.90" y1="492.60" x2="73.1" y2="492.60" stroke="#4a4a4a" stroke-width="1.2"/>
<text x="62.70" y="496.20" font-size="10.0" font-weight="bold" text-anchor="end" textLength="4.67" lengthAdjust="spacingAndGlyphs" >0</text>
<text transform="translate(44.40,458.40) rotate(-90)" font-size="8.9" font-weight="bold" text-anchor="middle" textLength="223.00" lengthAdjust="spacingAndGlyphs">Normalised % of alamarBlue reduced to DNA quantity</text>
<line x1="80.14" y1="454.00" x2="80.14" y2="456.00" stroke="#666" stroke-width="1.3"/>
<path d="M78.14 453.00H82.14L80.84 454.90H79.44Z" fill="#333"/>
<rect x="77.09" y="456.00" width="6.10" height="36.60" fill="#fff"/>
<rect x="80.19" y="456.00" width="1.5" height="36.60" fill="#dadada"/>
<rect x="78.39" y="456.00" width="3.50" height="2.00" fill="#d4d4d4"/>
<line x1="80.14" y1="456.00" x2="80.14" y2="458.00" stroke="#8a8a8a" stroke-width="0.9"/>
<line x1="78.54" y1="458.00" x2="81.74" y2="458.00" stroke="#444" stroke-width="1.2"/>
<rect x="77.09" y="455.40" width="1.4" height="37.20" fill="#6a6a6a"/>
<rect x="81.79" y="455.40" width="1.4" height="37.20" fill="#666"/>
<rect x="77.09" y="455.40" width="6.10" height="1.2" fill="#555"/>
<text transform="translate(83.74,500.40) rotate(-90)" font-size="9.9" font-weight="bold" text-anchor="end" textLength="54.11" lengthAdjust="spacingAndGlyphs">-MMC-TGFβ1</text>
<line x1="94.82" y1="452.80" x2="94.82" y2="457.50" stroke="#666" stroke-width="1.3"/>
<path d="M92.82 451.80H96.82L95.52 453.70H94.12Z" fill="#333"/>
<rect x="91.77" y="457.50" width="6.10" height="35.10" fill="#fff"/>
<rect x="94.87" y="457.50" width="1.5" height="35.10" fill="#dadada"/>
<rect x="93.07" y="457.50" width="3.50" height="4.70" fill="#d4d4d4"/>
<line x1="94.82" y1="457.50" x2="94.82" y2="462.20" stroke="#8a8a8a" stroke-width="0.9"/>
<line x1="93.22" y1="462.20" x2="96.42" y2="462.20" stroke="#444" stroke-width="1.2"/>
<rect x="91.77" y="456.90" width="1.4" height="35.70" fill="#6a6a6a"/>
<rect x="96.47" y="456.90" width="1.4" height="35.70" fill="#666"/>
<rect x="91.77" y="456.90" width="6.10" height="1.2" fill="#555"/>
<text transform="translate(98.42,500.40) rotate(-90)" font-size="9.9" font-weight="bold" text-anchor="end" textLength="56.30" lengthAdjust="spacingAndGlyphs">-MMC+TGFβ1</text>
<line x1="109.50" y1="450.50" x2="109.50" y2="451.60" stroke="#666" stroke-width="1.3"/>
<path d="M107.50 449.50H111.50L110.20 451.40H108.80Z" fill="#333"/>
<rect x="106.45" y="451.60" width="6.10" height="41.00" fill="#fff"/>
<rect x="109.55" y="451.60" width="1.5" height="41.00" fill="#dadada"/>
<rect x="107.75" y="451.60" width="3.50" height="1.10" fill="#d4d4d4"/>
<line x1="109.50" y1="451.60" x2="109.50" y2="452.70" stroke="#8a8a8a" stroke-width="0.9"/>
<line x1="107.90" y1="452.70" x2="111.10" y2="452.70" stroke="#444" stroke-width="1.2"/>
<rect x="106.45" y="451.00" width="1.4" height="41.60" fill="#6a6a6a"/>
<rect x="111.15" y="451.00" width="1.4" height="41.60" fill="#666"/>
<rect x="106.45" y="451.00" width="6.10" height="1.2" fill="#555"/>
<text transform="translate(113.10,500.40) rotate(-90)" font-size="9.9" font-weight="bold" text-anchor="end" textLength="56.30" lengthAdjust="spacingAndGlyphs">+MMC-TGFβ1</text>
<line x1="124.19" y1="438.10" x2="124.19" y2="445.10" stroke="#666" stroke-width="1.3"/>
<path d="M122.19 437.10H126.19L124.89 439.00H123.49Z" fill="#333"/>
<rect x="121.14" y="445.10" width="6.10" height="47.50" fill="#fff"/>
<rect x="124.24" y="445.10" width="1.5" height="47.50" fill="#dadada"/>
<rect x="122.44" y="445.10" width="3.50" height="7.00" fill="#d4d4d4"/>
<line x1="124.19" y1="445.10" x2="124.19" y2="452.10" stroke="#8a8a8a" stroke-width="0.9"/>
<line x1="122.59" y1="452.10" x2="125.79" y2="452.10" stroke="#444" stroke-width="1.2"/>
<rect x="121.14" y="444.50" width="1.4" height="48.10" fill="#6a6a6a"/>
<rect x="125.84" y="444.50" width="1.4" height="48.10" fill="#666"/>
<rect x="121.14" y="444.50" width="6.10" height="1.2" fill="#555"/>
<text transform="translate(127.79,500.40) rotate(-90)" font-size="9.9" font-weight="bold" text-anchor="end" textLength="58.48" lengthAdjust="spacingAndGlyphs">+MMC+TGFβ1</text>
<line x1="138.87" y1="450.20" x2="138.87" y2="452.40" stroke="#666" stroke-width="1.3"/>
<path d="M136.87 449.20H140.87L139.57 451.10H138.17Z" fill="#333"/>
<rect x="135.82" y="452.40" width="6.10" height="40.20" fill="#fff"/>
<rect x="138.92" y="452.40" width="1.5" height="40.20" fill="#dadada"/>
<rect x="137.12" y="452.40" width="3.50" height="2.20" fill="#d4d4d4"/>
<line x1="138.87" y1="452.40" x2="138.87" y2="454.60" stroke="#8a8a8a" stroke-width="0.9"/>
<line x1="137.27" y1="454.60" x2="140.47" y2="454.60" stroke="#444" stroke-width="1.2"/>
<rect x="135.82" y="451.80" width="1.4" height="40.80" fill="#6a6a6a"/>
<rect x="140.52" y="451.80" width="1.4" height="40.80" fill="#666"/>
<rect x="135.82" y="451.80" width="6.10" height="1.2" fill="#555"/>
<text transform="translate(142.47,500.40) rotate(-90)" font-size="9.9" font-weight="bold" text-anchor="end" textLength="78.55" lengthAdjust="spacingAndGlyphs">+MMC+TGFβ1+C-S</text>
<line x1="153.55" y1="438.90" x2="153.55" y2="443.60" stroke="#666" stroke-width="1.3"/>
<path d="M151.55 437.90H155.55L154.25 439.80H152.85Z" fill="#333"/>
<rect x="150.50" y="443.60" width="6.10" height="49.00" fill="#fff"/>
<rect x="153.60" y="443.60" width="1.5" height="49.00" fill="#dadada"/>
<rect x="151.80" y="443.60" width="3.50" height="4.70" fill="#d4d4d4"/>
<line x1="153.55" y1="443.60" x2="153.55" y2="448.30" stroke="#8a8a8a" stroke-width="0.9"/>
<line x1="151.95" y1="448.30" x2="155.15" y2="448.30" stroke="#444" stroke-width="1.2"/>
<rect x="150.50" y="443.00" width="1.4" height="49.60" fill="#6a6a6a"/>
<rect x="155.20" y="443.00" width="1.4" height="49.60" fill="#666"/>
<rect x="150.50" y="443.00" width="6.10" height="1.2" fill="#555"/>
<text transform="translate(157.15,500.40) rotate(-90)" font-size="9.9" font-weight="bold" text-anchor="end" textLength="101.74" lengthAdjust="spacingAndGlyphs">+MMC+TGFβ1+C-S(TSA)</text>
<line x1="168.23" y1="443.70" x2="168.23" y2="450.10" stroke="#666" stroke-width="1.3"/>
<path d="M166.23 442.70H170.23L168.93 444.60H167.53Z" fill="#333"/>
<rect x="165.18" y="450.10" width="6.10" height="42.50" fill="#fff"/>
<rect x="168.28" y="450.10" width="1.5" height="42.50" fill="#dadada"/>
<rect x="166.48" y="450.10" width="3.50" height="6.40" fill="#d4d4d4"/>
<line x1="168.23" y1="450.10" x2="168.23" y2="456.50" stroke="#8a8a8a" stroke-width="0.9"/>
<line x1="166.63" y1="456.50" x2="169.83" y2="456.50" stroke="#444" stroke-width="1.2"/>
<rect x="165.18" y="449.50" width="1.4" height="43.10" fill="#6a6a6a"/>
<rect x="169.88" y="449.50" width="1.4" height="43.10" fill="#666"/>
<rect x="165.18" y="449.50" width="6.10" height="1.2" fill="#555"/>
<text transform="translate(171.83,500.40) rotate(-90)" font-size="9.9" font-weight="bold" text-anchor="end" textLength="112.38" lengthAdjust="spacingAndGlyphs">+MMC+TGFβ1+C(T122bt)-S</text>
<line x1="182.91" y1="437.20" x2="182.91" y2="440.60" stroke="#666" stroke-width="1.3"/>
<path d="M180.91 436.20H184.91L183.61 438.10H182.21Z" fill="#333"/>
<rect x="179.86" y="440.60" width="6.10" height="52.00" fill="#fff"/>
<rect x="182.96" y="440.60" width="1.5" height="52.00" fill="#dadada"/>
<rect x="181.16" y="440.60" width="3.50" height="3.40" fill="#d4d4d4"/>
<line x1="182.91" y1="440.60" x2="182.91" y2="444.00" stroke="#8a8a8a" stroke-width="0.9"/>
<line x1="181.31" y1="444.00" x2="184.51" y2="444.00" stroke="#444" stroke-width="1.2"/>
<rect x="179.86" y="440.00" width="1.4" height="52.60" fill="#6a6a6a"/>
<rect x="184.56" y="440.00" width="1.4" height="52.60" fill="#666"/>
<rect x="179.86" y="440.00" width="6.10" height="1.2" fill="#555"/>
<text transform="translate(186.51,500.40) rotate(-90)" font-size="9.9" font-weight="bold" text-anchor="end" textLength="135.57" lengthAdjust="spacingAndGlyphs">+MMC+TGFβ1+C(T122bt)-S(TSA)</text>
<line x1="197.60" y1="437.80" x2="197.60" y2="439.70" stroke="#666" stroke-width="1.3"/>
<path d="M195.60 436.80H199.60L198.30 438.70H196.90Z" fill="#333"/>
<rect x="194.55" y="439.70" width="6.10" height="52.90" fill="#fff"/>
<rect x="197.65" y="439.70" width="1.5" height="52.90" fill="#dadada"/>
<rect x="195.85" y="439.70" width="3.50" height="1.90" fill="#d4d4d4"/>
<line x1="197.60" y1="439.70" x2="197.60" y2="441.60" stroke="#8a8a8a" stroke-width="0.9"/>
<line x1="196.00" y1="441.60" x2="199.20" y2="441.60" stroke="#444" stroke-width="1.2"/>
<rect x="194.55" y="439.10" width="1.4" height="53.50" fill="#6a6a6a"/>
<rect x="199.25" y="439.10" width="1.4" height="53.50" fill="#666"/>
<rect x="194.55" y="439.10" width="6.10" height="1.2" fill="#555"/>
<text transform="translate(201.20,500.40) rotate(-90)" font-size="9.9" font-weight="bold" text-anchor="end" textLength="80.96" lengthAdjust="spacingAndGlyphs">+MMC+TGFβ1+TSA</text>
<line x1="212.28" y1="452.20" x2="212.28" y2="454.50" stroke="#666" stroke-width="1.3"/>
<path d="M210.28 451.20H214.28L212.98 453.10H211.58Z" fill="#333"/>
<rect x="209.23" y="454.50" width="6.10" height="38.10" fill="#fff"/>
<rect x="212.33" y="454.50" width="1.5" height="38.10" fill="#dadada"/>
<rect x="210.53" y="454.50" width="3.50" height="2.30" fill="#d4d4d4"/>
<line x1="212.28" y1="454.50" x2="212.28" y2="456.80" stroke="#8a8a8a" stroke-width="0.9"/>
<line x1="210.68" y1="456.80" x2="213.88" y2="456.80" stroke="#444" stroke-width="1.2"/>
<rect x="209.23" y="453.90" width="1.4" height="38.70" fill="#6a6a6a"/>
<rect x="213.93" y="453.90" width="1.4" height="38.70" fill="#666"/>
<rect x="209.23" y="453.90" width="6.10" height="1.2" fill="#555"/>
<text transform="translate(215.88,500.40) rotate(-90)" font-size="9.9" font-weight="bold" text-anchor="end" textLength="86.76" lengthAdjust="spacingAndGlyphs">+MMC+TGFβ1+T12bt</text>
<line x1="226.96" y1="447.80" x2="226.96" y2="451.30" stroke="#666" stroke-width="1.3"/>
<path d="M224.96 446.80H228.96L227.66 448.70H226.26Z" fill="#333"/>
<rect x="223.91" y="451.30" width="6.10" height="41.30" fill="#fff"/>
<rect x="227.01" y="451.30" width="1.5" height="41.30" fill="#dadada"/>
<rect x="225.21" y="451.30" width="3.50" height="3.50" fill="#d4d4d4"/>
<line x1="226.96" y1="451.30" x2="226.96" y2="454.80" stroke="#8a8a8a" stroke-width="0.9"/>
<line x1="225.36" y1="454.80" x2="228.56" y2="454.80" stroke="#444" stroke-width="1.2"/>
<rect x="223.91" y="450.70" width="1.4" height="41.90" fill="#6a6a6a"/>
<rect x="228.61" y="450.70" width="1.4" height="41.90" fill="#666"/>
<rect x="223.91" y="450.70" width="6.10" height="1.2" fill="#555"/>
<text transform="translate(230.56,500.40) rotate(-90)" font-size="9.9" font-weight="bold" text-anchor="end" textLength="114.08" lengthAdjust="spacingAndGlyphs">+MMC+TGFβ1+TSA+T122bt</text>
<line x1="241.64" y1="448.30" x2="241.64" y2="456.40" stroke="#666" stroke-width="1.3"/>
<path d="M239.64 447.30H243.64L242.34 449.20H240.94Z" fill="#333"/>
<rect x="238.59" y="456.40" width="6.10" height="36.20" fill="#fff"/>
<rect x="241.69" y="456.40" width="1.5" height="36.20" fill="#dadada"/>
<rect x="239.89" y="456.40" width="3.50" height="8.10" fill="#d4d4d4"/>
<line x1="241.64" y1="456.40" x2="241.64" y2="464.50" stroke="#8a8a8a" stroke-width="0.9"/>
<line x1="240.04" y1="464.50" x2="243.24" y2="464.50" stroke="#444" stroke-width="1.2"/>
<rect x="238.59" y="455.80" width="1.4" height="36.80" fill="#6a6a6a"/>
<rect x="243.29" y="455.80" width="1.4" height="36.80" fill="#666"/>
<rect x="238.59" y="455.80" width="6.10" height="1.2" fill="#555"/>
<text transform="translate(245.24,500.40) rotate(-90)" font-size="9.9" font-weight="bold" text-anchor="end" textLength="54.11" lengthAdjust="spacingAndGlyphs">-MMC-TGFβ1</text>
<line x1="256.32" y1="459.80" x2="256.32" y2="463.20" stroke="#666" stroke-width="1.3"/>
<path d="M254.32 458.80H258.32L257.02 460.70H255.62Z" fill="#333"/>
<rect x="253.27" y="463.20" width="6.10" height="29.40" fill="#fff"/>
<rect x="256.37" y="463.20" width="1.5" height="29.40" fill="#dadada"/>
<rect x="254.57" y="463.20" width="3.50" height="3.40" fill="#d4d4d4"/>
<line x1="256.32" y1="463.20" x2="256.32" y2="466.60" stroke="#8a8a8a" stroke-width="0.9"/>
<line x1="254.72" y1="466.60" x2="257.92" y2="466.60" stroke="#444" stroke-width="1.2"/>
<rect x="253.27" y="462.60" width="1.4" height="30.00" fill="#6a6a6a"/>
<rect x="257.97" y="462.60" width="1.4" height="30.00" fill="#666"/>
<rect x="253.27" y="462.60" width="6.10" height="1.2" fill="#555"/>
<text transform="translate(259.92,500.40) rotate(-90)" font-size="9.9" font-weight="bold" text-anchor="end" textLength="56.30" lengthAdjust="spacingAndGlyphs">-MMC+TGFβ1</text>
<line x1="271.00" y1="458.30" x2="271.00" y2="461.50" stroke="#666" stroke-width="1.3"/>
<path d="M269.00 457.30H273.00L271.70 459.20H270.30Z" fill="#333"/>
<rect x="267.95" y="461.50" width="6.10" height="31.10" fill="#fff"/>
<rect x="271.05" y="461.50" width="1.5" height="31.10" fill="#dadada"/>
<rect x="269.25" y="461.50" width="3.50" height="3.20" fill="#d4d4d4"/>
<line x1="271.00" y1="461.50" x2="271.00" y2="464.70" stroke="#8a8a8a" stroke-width="0.9"/>
<line x1="269.40" y1="464.70" x2="272.60" y2="464.70" stroke="#444" stroke-width="1.2"/>
<rect x="267.95" y="460.90" width="1.4" height="31.70" fill="#6a6a6a"/>
<rect x="272.65" y="460.90" width="1.4" height="31.70" fill="#666"/>
<rect x="267.95" y="460.90" width="6.10" height="1.2" fill="#555"/>
<text transform="translate(274.60,500.40) rotate(-90)" font-size="9.9" font-weight="bold" text-anchor="end" textLength="56.30" lengthAdjust="spacingAndGlyphs">+MMC-TGFβ1</text>
<line x1="285.69" y1="458.90" x2="285.69" y2="461.50" stroke="#666" stroke-width="1.3"/>
<path d="M283.69 457.90H287.69L286.39 459.80H284.99Z" fill="#333"/>
<rect x="282.64" y="461.50" width="6.10" height="31.10" fill="#fff"/>
<rect x="285.74" y="461.50" width="1.5" height="31.10" fill="#dadada"/>
<rect x="283.94" y="461.50" width="3.50" height="2.60" fill="#d4d4d4"/>
<line x1="285.69" y1="461.50" x2="285.69" y2="464.10" stroke="#8a8a8a" stroke-width="0.9"/>
<line x1="284.09" y1="464.10" x2="287.29" y2="464.10" stroke="#444" stroke-width="1.2"/>
<rect x="282.64" y="460.90" width="1.4" height="31.70" fill="#6a6a6a"/>
<rect x="287.34" y="460.90" width="1.4" height="31.70" fill="#666"/>
<rect x="282.64" y="460.90" width="6.10" height="1.2" fill="#555"/>
<text transform="translate(289.29,500.40) rotate(-90)" font-size="9.9" font-weight="bold" text-anchor="end" textLength="58.48" lengthAdjust="spacingAndGlyphs">+MMC+TGFβ1</text>
<line x1="300.37" y1="427.30" x2="300.37" y2="433.10" stroke="#666" stroke-width="1.3"/>
<path d="M298.37 426.30H302.37L301.07 428.20H299.67Z" fill="#333"/>
<rect x="297.32" y="433.10" width="6.10" height="59.50" fill="#fff"/>
<rect x="300.42" y="433.10" width="1.5" height="59.50" fill="#dadada"/>
<rect x="298.62" y="433.10" width="3.50" height="5.80" fill="#d4d4d4"/>
<line x1="300.37" y1="433.10" x2="300.37" y2="438.90" stroke="#8a8a8a" stroke-width="0.9"/>
<line x1="298.77" y1="438.90" x2="301.97" y2="438.90" stroke="#444" stroke-width="1.2"/>
<rect x="297.32" y="432.50" width="1.4" height="60.10" fill="#6a6a6a"/>
<rect x="302.02" y="432.50" width="1.4" height="60.10" fill="#666"/>
<rect x="297.32" y="432.50" width="6.10" height="1.2" fill="#555"/>
<text transform="translate(303.97,500.40) rotate(-90)" font-size="9.9" font-weight="bold" text-anchor="end" textLength="78.55" lengthAdjust="spacingAndGlyphs">+MMC+TGFβ1+C-S</text>
<line x1="315.05" y1="400.40" x2="315.05" y2="407.40" stroke="#666" stroke-width="1.3"/>
<path d="M313.05 399.40H317.05L315.75 401.30H314.35Z" fill="#333"/>
<rect x="312.00" y="407.40" width="6.10" height="85.20" fill="#fff"/>
<rect x="315.10" y="407.40" width="1.5" height="85.20" fill="#dadada"/>
<rect x="313.30" y="407.40" width="3.50" height="7.00" fill="#d4d4d4"/>
<line x1="315.05" y1="407.40" x2="315.05" y2="414.40" stroke="#8a8a8a" stroke-width="0.9"/>
<line x1="313.45" y1="414.40" x2="316.65" y2="414.40" stroke="#444" stroke-width="1.2"/>
<rect x="312.00" y="406.80" width="1.4" height="85.80" fill="#6a6a6a"/>
<rect x="316.70" y="406.80" width="1.4" height="85.80" fill="#666"/>
<rect x="312.00" y="406.80" width="6.10" height="1.2" fill="#555"/>
<text transform="translate(318.65,500.40) rotate(-90)" font-size="9.9" font-weight="bold" text-anchor="end" textLength="101.74" lengthAdjust="spacingAndGlyphs">+MMC+TGFβ1+C-S(TSA)</text>
<line x1="329.73" y1="419.00" x2="329.73" y2="425.10" stroke="#666" stroke-width="1.3"/>
<path d="M327.73 418.00H331.73L330.43 419.90H329.03Z" fill="#333"/>
<rect x="326.68" y="425.10" width="6.10" height="67.50" fill="#fff"/>
<rect x="329.78" y="425.10" width="1.5" height="67.50" fill="#dadada"/>
<rect x="327.98" y="425.10" width="3.50" height="6.10" fill="#d4d4d4"/>
<line x1="329.73" y1="425.10" x2="329.73" y2="431.20" stroke="#8a8a8a" stroke-width="0.9"/>
<line x1="328.13" y1="431.20" x2="331.33" y2="431.20" stroke="#444" stroke-width="1.2"/>
<rect x="326.68" y="424.50" width="1.4" height="68.10" fill="#6a6a6a"/>
<rect x="331.38" y="424.50" width="1.4" height="68.10" fill="#666"/>
<rect x="326.68" y="424.50" width="6.10" height="1.2" fill="#555"/>
<text transform="translate(333.33,500.40) rotate(-90)" font-size="9.9" font-weight="bold" text-anchor="end" textLength="112.38" lengthAdjust="spacingAndGlyphs">+MMC+TGFβ1+C(T122bt)-S</text>
<line x1="344.41" y1="419.90" x2="344.41" y2="435.20" stroke="#666" stroke-width="1.3"/>
<path d="M342.41 418.90H346.41L345.11 420.80H343.71Z" fill="#333"/>
<rect x="341.36" y="435.20" width="6.10" height="57.40" fill="#fff"/>
<rect x="344.46" y="435.20" width="1.5" height="57.40" fill="#dadada"/>
<rect x="342.66" y="435.20" width="3.50" height="15.30" fill="#d4d4d4"/>
<line x1="344.41" y1="435.20" x2="344.41" y2="450.50" stroke="#8a8a8a" stroke-width="0.9"/>
<line x1="342.81" y1="450.50" x2="346.01" y2="450.50" stroke="#444" stroke-width="1.2"/>
<rect x="341.36" y="434.60" width="1.4" height="58.00" fill="#6a6a6a"/>
<rect x="346.06" y="434.60" width="1.4" height="58.00" fill="#666"/>
<rect x="341.36" y="434.60" width="6.10" height="1.2" fill="#555"/>
<text transform="translate(348.01,500.40) rotate(-90)" font-size="9.9" font-weight="bold" text-anchor="end" textLength="135.57" lengthAdjust="spacingAndGlyphs">+MMC+TGFβ1+C(T122bt)-S(TSA)</text>
<line x1="359.10" y1="448.00" x2="359.10" y2="460.90" stroke="#666" stroke-width="1.3"/>
<path d="M357.10 447.00H361.10L359.80 448.90H358.40Z" fill="#333"/>
<rect x="356.05" y="460.90" width="6.10" height="31.70" fill="#fff"/>
<rect x="359.15" y="460.90" width="1.5" height="31.70" fill="#dadada"/>
<rect x="357.35" y="460.90" width="3.50" height="12.90" fill="#d4d4d4"/>
<line x1="359.10" y1="460.90" x2="359.10" y2="473.80" stroke="#8a8a8a" stroke-width="0.9"/>
<line x1="357.50" y1="473.80" x2="360.70" y2="473.80" stroke="#444" stroke-width="1.2"/>
<rect x="356.05" y="460.30" width="1.4" height="32.30" fill="#6a6a6a"/>
<rect x="360.75" y="460.30" width="1.4" height="32.30" fill="#666"/>
<rect x="356.05" y="460.30" width="6.10" height="1.2" fill="#555"/>
<text transform="translate(362.70,500.40) rotate(-90)" font-size="9.9" font-weight="bold" text-anchor="end" textLength="80.96" lengthAdjust="spacingAndGlyphs">+MMC+TGFβ1+TSA</text>
<line x1="373.78" y1="456.80" x2="373.78" y2="458.80" stroke="#666" stroke-width="1.3"/>
<path d="M371.78 455.80H375.78L374.48 457.70H373.08Z" fill="#333"/>
<rect x="370.73" y="458.80" width="6.10" height="33.80" fill="#fff"/>
<rect x="373.83" y="458.80" width="1.5" height="33.80" fill="#dadada"/>
<rect x="372.03" y="458.80" width="3.50" height="2.00" fill="#d4d4d4"/>
<line x1="373.78" y1="458.80" x2="373.78" y2="460.80" stroke="#8a8a8a" stroke-width="0.9"/>
<line x1="372.18" y1="460.80" x2="375.38" y2="460.80" stroke="#444" stroke-width="1.2"/>
<rect x="370.73" y="458.20" width="1.4" height="34.40" fill="#6a6a6a"/>
<rect x="375.43" y="458.20" width="1.4" height="34.40" fill="#666"/>
<rect x="370.73" y="458.20" width="6.10" height="1.2" fill="#555"/>
<text transform="translate(377.38,500.40) rotate(-90)" font-size="9.9" font-weight="bold" text-anchor="end" textLength="86.76" lengthAdjust="spacingAndGlyphs">+MMC+TGFβ1+T12bt</text>
<line x1="388.46" y1="448.30" x2="388.46" y2="451.10" stroke="#666" stroke-width="1.3"/>
<path d="M386.46 447.30H390.46L389.16 449.20H387.76Z" fill="#333"/>
<rect x="385.41" y="451.10" width="6.10" height="41.50" fill="#fff"/>
<rect x="388.51" y="451.10" width="1.5" height="41.50" fill="#dadada"/>
<rect x="386.71" y="451.10" width="3.50" height="2.80" fill="#d4d4d4"/>
<line x1="388.46" y1="451.10" x2="388.46" y2="453.90" stroke="#8a8a8a" stroke-width="0.9"/>
<line x1="386.86" y1="453.90" x2="390.06" y2="453.90" stroke="#444" stroke-width="1.2"/>
<rect x="385.41" y="450.50" width="1.4" height="42.10" fill="#6a6a6a"/>
<rect x="390.11" y="450.50" width="1.4" height="42.10" fill="#666"/>
<rect x="385.41" y="450.50" width="6.10" height="1.2" fill="#555"/>
<text transform="translate(392.06,500.40) rotate(-90)" font-size="9.9" font-weight="bold" text-anchor="end" textLength="114.08" lengthAdjust="spacingAndGlyphs">+MMC+TGFβ1+TSA+T122bt</text>
<line x1="403.14" y1="453.10" x2="403.14" y2="456.50" stroke="#666" stroke-width="1.3"/>
<path d="M401.14 452.10H405.14L403.84 454.00H402.44Z" fill="#333"/>
<rect x="400.09" y="456.50" width="6.10" height="36.10" fill="#fff"/>
<rect x="403.19" y="456.50" width="1.5" height="36.10" fill="#dadada"/>
<rect x="401.39" y="456.50" width="3.50" height="3.40" fill="#d4d4d4"/>
<line x1="403.14" y1="456.50" x2="403.14" y2="459.90" stroke="#8a8a8a" stroke-width="0.9"/>
<line x1="401.54" y1="459.90" x2="404.74" y2="459.90" stroke="#444" stroke-width="1.2"/>
<rect x="400.09" y="455.90" width="1.4" height="36.70" fill="#6a6a6a"/>
<rect x="404.79" y="455.90" width="1.4" height="36.70" fill="#666"/>
<rect x="400.09" y="455.90" width="6.10" height="1.2" fill="#555"/>
<text transform="translate(406.74,500.40) rotate(-90)" font-size="9.9" font-weight="bold" text-anchor="end" textLength="54.11" lengthAdjust="spacingAndGlyphs">-MMC-TGFβ1</text>
<line x1="417.82" y1="459.50" x2="417.82" y2="461.00" stroke="#666" stroke-width="1.3"/>
<path d="M415.82 458.50H419.82L418.52 460.40H417.12Z" fill="#333"/>
<rect x="414.77" y="461.00" width="6.10" height="31.60" fill="#fff"/>
<rect x="417.87" y="461.00" width="1.5" height="31.60" fill="#dadada"/>
<rect x="416.07" y="461.00" width="3.50" height="1.50" fill="#d4d4d4"/>
<line x1="417.82" y1="461.00" x2="417.82" y2="462.50" stroke="#8a8a8a" stroke-width="0.9"/>
<line x1="416.22" y1="462.50" x2="419.42" y2="462.50" stroke="#444" stroke-width="1.2"/>
<rect x="414.77" y="460.40" width="1.4" height="32.20" fill="#6a6a6a"/>
<rect x="419.47" y="460.40" width="1.4" height="32.20" fill="#666"/>
<rect x="414.77" y="460.40" width="6.10" height="1.2" fill="#555"/>
<text transform="translate(421.42,500.40) rotate(-90)" font-size="9.9" font-weight="bold" text-anchor="end" textLength="56.30" lengthAdjust="spacingAndGlyphs">-MMC+TGFβ1</text>
<line x1="432.50" y1="452.10" x2="432.50" y2="455.60" stroke="#666" stroke-width="1.3"/>
<path d="M430.50 451.10H434.50L433.20 453.00H431.80Z" fill="#333"/>
<rect x="429.45" y="455.60" width="6.10" height="37.00" fill="#fff"/>
<rect x="432.55" y="455.60" width="1.5" height="37.00" fill="#dadada"/>
<rect x="430.75" y="455.60" width="3.50" height="3.50" fill="#d4d4d4"/>
<line x1="432.50" y1="455.60" x2="432.50" y2="459.10" stroke="#8a8a8a" stroke-width="0.9"/>
<line x1="430.90" y1="459.10" x2="434.10" y2="459.10" stroke="#444" stroke-width="1.2"/>
<rect x="429.45" y="455.00" width="1.4" height="37.60" fill="#6a6a6a"/>
<rect x="434.15" y="455.00" width="1.4" height="37.60" fill="#666"/>
<rect x="429.45" y="455.00" width="6.10" height="1.2" fill="#555"/>
<text transform="translate(436.10,500.40) rotate(-90)" font-size="9.9" font-weight="bold" text-anchor="end" textLength="56.30" lengthAdjust="spacingAndGlyphs">+MMC-TGFβ1</text>
<line x1="447.19" y1="457.90" x2="447.19" y2="461.00" stroke="#666" stroke-width="1.3"/>
<path d="M445.19 456.90H449.19L447.89 458.80H446.49Z" fill="#333"/>
<rect x="444.14" y="461.00" width="6.10" height="31.60" fill="#fff"/>
<rect x="447.24" y="461.00" width="1.5" height="31.60" fill="#dadada"/>
<rect x="445.44" y="461.00" width="3.50" height="3.10" fill="#d4d4d4"/>
<line x1="447.19" y1="461.00" x2="447.19" y2="464.10" stroke="#8a8a8a" stroke-width="0.9"/>
<line x1="445.59" y1="464.10" x2="448.79" y2="464.10" stroke="#444" stroke-width="1.2"/>
<rect x="444.14" y="460.40" width="1.4" height="32.20" fill="#6a6a6a"/>
<rect x="448.84" y="460.40" width="1.4" height="32.20" fill="#666"/>
<rect x="444.14" y="460.40" width="6.10" height="1.2" fill="#555"/>
<text transform="translate(450.79,500.40) rotate(-90)" font-size="9.9" font-weight="bold" text-anchor="end" textLength="58.48" lengthAdjust="spacingAndGlyphs">+MMC+TGFβ1</text>
<line x1="461.87" y1="454.70" x2="461.87" y2="458.10" stroke="#666" stroke-width="1.3"/>
<path d="M459.87 453.70H463.87L462.57 455.60H461.17Z" fill="#333"/>
<rect x="458.82" y="458.10" width="6.10" height="34.50" fill="#fff"/>
<rect x="461.92" y="458.10" width="1.5" height="34.50" fill="#dadada"/>
<rect x="460.12" y="458.10" width="3.50" height="3.40" fill="#d4d4d4"/>
<line x1="461.87" y1="458.10" x2="461.87" y2="461.50" stroke="#8a8a8a" stroke-width="0.9"/>
<line x1="460.27" y1="461.50" x2="463.47" y2="461.50" stroke="#444" stroke-width="1.2"/>
<rect x="458.82" y="457.50" width="1.4" height="35.10" fill="#6a6a6a"/>
<rect x="463.52" y="457.50" width="1.4" height="35.10" fill="#666"/>
<rect x="458.82" y="457.50" width="6.10" height="1.2" fill="#555"/>
<text transform="translate(465.47,500.40) rotate(-90)" font-size="9.9" font-weight="bold" text-anchor="end" textLength="78.55" lengthAdjust="spacingAndGlyphs">+MMC+TGFβ1+C-S</text>
<line x1="476.55" y1="376.90" x2="476.55" y2="391.50" stroke="#666" stroke-width="1.3"/>
<path d="M474.55 375.90H478.55L477.25 377.80H475.85Z" fill="#333"/>
<rect x="473.50" y="391.50" width="6.10" height="101.10" fill="#fff"/>
<rect x="476.60" y="391.50" width="1.5" height="101.10" fill="#dadada"/>
<rect x="474.80" y="391.50" width="3.50" height="14.60" fill="#d4d4d4"/>
<line x1="476.55" y1="391.50" x2="476.55" y2="406.10" stroke="#8a8a8a" stroke-width="0.9"/>
<line x1="474.95" y1="406.10" x2="478.15" y2="406.10" stroke="#444" stroke-width="1.2"/>
<rect x="473.50" y="390.90" width="1.4" height="101.70" fill="#6a6a6a"/>
<rect x="478.20" y="390.90" width="1.4" height="101.70" fill="#666"/>
<rect x="473.50" y="390.90" width="6.10" height="1.2" fill="#555"/>
<text transform="translate(480.15,500.40) rotate(-90)" font-size="9.9" font-weight="bold" text-anchor="end" textLength="101.74" lengthAdjust="spacingAndGlyphs">+MMC+TGFβ1+C-S(TSA)</text>
<line x1="491.23" y1="449.90" x2="491.23" y2="454.00" stroke="#666" stroke-width="1.3"/>
<path d="M489.23 448.90H493.23L491.93 450.80H490.53Z" fill="#333"/>
<rect x="488.18" y="454.00" width="6.10" height="38.60" fill="#fff"/>
<rect x="491.28" y="454.00" width="1.5" height="38.60" fill="#dadada"/>
<rect x="489.48" y="454.00" width="3.50" height="4.10" fill="#d4d4d4"/>
<line x1="491.23" y1="454.00" x2="491.23" y2="458.10" stroke="#8a8a8a" stroke-width="0.9"/>
<line x1="489.63" y1="458.10" x2="492.83" y2="458.10" stroke="#444" stroke-width="1.2"/>
<rect x="488.18" y="453.40" width="1.4" height="39.20" fill="#6a6a6a"/>
<rect x="492.88" y="453.40" width="1.4" height="39.20" fill="#666"/>
<rect x="488.18" y="453.40" width="6.10" height="1.2" fill="#555"/>
<text transform="translate(494.83,500.40) rotate(-90)" font-size="9.9" font-weight="bold" text-anchor="end" textLength="112.38" lengthAdjust="spacingAndGlyphs">+MMC+TGFβ1+C(T122bt)-S</text>
<line x1="505.91" y1="447.60" x2="505.91" y2="451.70" stroke="#666" stroke-width="1.3"/>
<path d="M503.91 446.60H507.91L506.61 448.50H505.21Z" fill="#333"/>
<rect x="502.86" y="451.70" width="6.10" height="40.90" fill="#fff"/>
<rect x="505.96" y="451.70" width="1.5" height="40.90" fill="#dadada"/>
<rect x="504.16" y="451.70" width="3.50" height="4.10" fill="#d4d4d4"/>
<line x1="505.91" y1="451.70" x2="505.91" y2="455.80" stroke="#8a8a8a" stroke-width="0.9"/>
<line x1="504.31" y1="455.80" x2="507.51" y2="455.80" stroke="#444" stroke-width="1.2"/>
<rect x="502.86" y="451.10" width="1.4" height="41.50" fill="#6a6a6a"/>
<rect x="507.56" y="451.10" width="1.4" height="41.50" fill="#666"/>
<rect x="502.86" y="451.10" width="6.10" height="1.2" fill="#555"/>
<text transform="translate(509.51,500.40) rotate(-90)" font-size="9.9" font-weight="bold" text-anchor="end" textLength="135.57" lengthAdjust="spacingAndGlyphs">+MMC+TGFβ1+C(T122bt)-S(TSA)</text>
<line x1="520.60" y1="448.90" x2="520.60" y2="451.70" stroke="#666" stroke-width="1.3"/>
<path d="M518.60 447.90H522.60L521.30 449.80H519.90Z" fill="#333"/>
<rect x="517.55" y="451.70" width="6.10" height="40.90" fill="#fff"/>
<rect x="520.65" y="451.70" width="1.5" height="40.90" fill="#dadada"/>
<rect x="518.85" y="451.70" width="3.50" height="2.80" fill="#d4d4d4"/>
<line x1="520.60" y1="451.70" x2="520.60" y2="454.50" stroke="#8a8a8a" stroke-width="0.9"/>
<line x1="519.00" y1="454.50" x2="522.20" y2="454.50" stroke="#444" stroke-width="1.2"/>
<rect x="517.55" y="451.10" width="1.4" height="41.50" fill="#6a6a6a"/>
<rect x="522.25" y="451.10" width="1.4" height="41.50" fill="#666"/>
<rect x="517.55" y="451.10" width="6.10" height="1.2" fill="#555"/>
<text transform="translate(524.20,500.40) rotate(-90)" font-size="9.9" font-weight="bold" text-anchor="end" textLength="80.96" lengthAdjust="spacingAndGlyphs">+MMC+TGFβ1+TSA</text>
<line x1="535.28" y1="455.70" x2="535.28" y2="458.80" stroke="#666" stroke-width="1.3"/>
<path d="M533.28 454.70H537.28L535.98 456.60H534.58Z" fill="#333"/>
<rect x="532.23" y="458.80" width="6.10" height="33.80" fill="#fff"/>
<rect x="535.33" y="458.80" width="1.5" height="33.80" fill="#dadada"/>
<rect x="533.53" y="458.80" width="3.50" height="3.10" fill="#d4d4d4"/>
<line x1="535.28" y1="458.80" x2="535.28" y2="461.90" stroke="#8a8a8a" stroke-width="0.9"/>
<line x1="533.68" y1="461.90" x2="536.88" y2="461.90" stroke="#444" stroke-width="1.2"/>
<rect x="532.23" y="458.20" width="1.4" height="34.40" fill="#6a6a6a"/>
<rect x="536.93" y="458.20" width="1.4" height="34.40" fill="#666"/>
<rect x="532.23" y="458.20" width="6.10" height="1.2" fill="#555"/>
<text transform="translate(538.88,500.40) rotate(-90)" font-size="9.9" font-weight="bold" text-anchor="end" textLength="86.76" lengthAdjust="spacingAndGlyphs">+MMC+TGFβ1+T12bt</text>
<line x1="549.96" y1="449.30" x2="549.96" y2="468.70" stroke="#666" stroke-width="1.3"/>
<path d="M547.96 448.30H551.96L550.66 450.20H549.26Z" fill="#333"/>
<rect x="546.91" y="468.70" width="6.10" height="23.90" fill="#fff"/>
<rect x="550.01" y="468.70" width="1.5" height="23.90" fill="#dadada"/>
<rect x="548.21" y="468.70" width="3.50" height="19.40" fill="#d4d4d4"/>
<line x1="549.96" y1="468.70" x2="549.96" y2="488.10" stroke="#8a8a8a" stroke-width="0.9"/>
<line x1="548.36" y1="488.10" x2="551.56" y2="488.10" stroke="#444" stroke-width="1.2"/>
<rect x="546.91" y="468.10" width="1.4" height="24.50" fill="#6a6a6a"/>
<rect x="551.61" y="468.10" width="1.4" height="24.50" fill="#666"/>
<rect x="546.91" y="468.10" width="6.10" height="1.2" fill="#555"/>
<text transform="translate(553.56,500.40) rotate(-90)" font-size="9.9" font-weight="bold" text-anchor="end" textLength="114.08" lengthAdjust="spacingAndGlyphs">+MMC+TGFβ1+TSA+T122bt</text>
<text x="139.17" y="446.20" font-size="12" font-weight="bold" text-anchor="middle" textLength="5.34" lengthAdjust="spacingAndGlyphs">#</text>
<text x="153.85" y="433.60" font-size="12" font-weight="bold" text-anchor="middle" textLength="7.63" lengthAdjust="spacingAndGlyphs">&</text>
<text x="183.21" y="431.80" font-size="12" font-weight="bold" text-anchor="middle" textLength="7.63" lengthAdjust="spacingAndGlyphs">&</text>
<text x="197.90" y="431.80" font-size="12" font-weight="bold" text-anchor="middle" textLength="7.63" lengthAdjust="spacingAndGlyphs">&</text>
<text x="212.58" y="446.90" font-size="12" font-weight="bold" text-anchor="middle" textLength="5.34" lengthAdjust="spacingAndGlyphs">#</text>
<text x="300.67" y="421.80" font-size="12" font-weight="bold" text-anchor="middle" textLength="6.66" lengthAdjust="spacingAndGlyphs">+</text>
<text x="315.35" y="380.40" font-size="12" font-weight="bold" text-anchor="middle" textLength="6.66" lengthAdjust="spacingAndGlyphs">+</text>
<text x="315.35" y="395.30" font-size="12" font-weight="bold" text-anchor="middle" textLength="7.63" lengthAdjust="spacingAndGlyphs">&</text>
<text x="330.03" y="412.90" font-size="12" font-weight="bold" text-anchor="middle" textLength="6.66" lengthAdjust="spacingAndGlyphs">+</text>
<text x="344.71" y="413.80" font-size="12" font-weight="bold" text-anchor="middle" textLength="6.66" lengthAdjust="spacingAndGlyphs">+</text>
<text x="359.40" y="442.80" font-size="12" font-weight="bold" text-anchor="middle" textLength="5.47" lengthAdjust="spacingAndGlyphs">$</text>
<text x="374.08" y="452.30" font-size="12" font-weight="bold" text-anchor="middle" textLength="5.47" lengthAdjust="spacingAndGlyphs">$</text>
<text x="388.76" y="444.30" font-size="12" font-weight="bold" text-anchor="middle" textLength="5.47" lengthAdjust="spacingAndGlyphs">$</text>
<text x="476.85" y="356.70" font-size="12" font-weight="bold" text-anchor="middle" textLength="6.66" lengthAdjust="spacingAndGlyphs">+</text>
<text x="476.85" y="371.30" font-size="12" font-weight="bold" text-anchor="middle" textLength="7.63" lengthAdjust="spacingAndGlyphs">&</text>
<text x="154.00" y="652.80" font-size="10.0" font-weight="bold" text-anchor="middle" textLength="24.01" lengthAdjust="spacingAndGlyphs" >Day 4</text>
<text x="315.30" y="652.80" font-size="10.0" font-weight="bold" text-anchor="middle" textLength="24.01" lengthAdjust="spacingAndGlyphs" >Day 7</text>
<text x="476.20" y="652.80" font-size="10.0" font-weight="bold" text-anchor="middle" textLength="29.02" lengthAdjust="spacingAndGlyphs" >Day 10</text>
</svg></body></html>
